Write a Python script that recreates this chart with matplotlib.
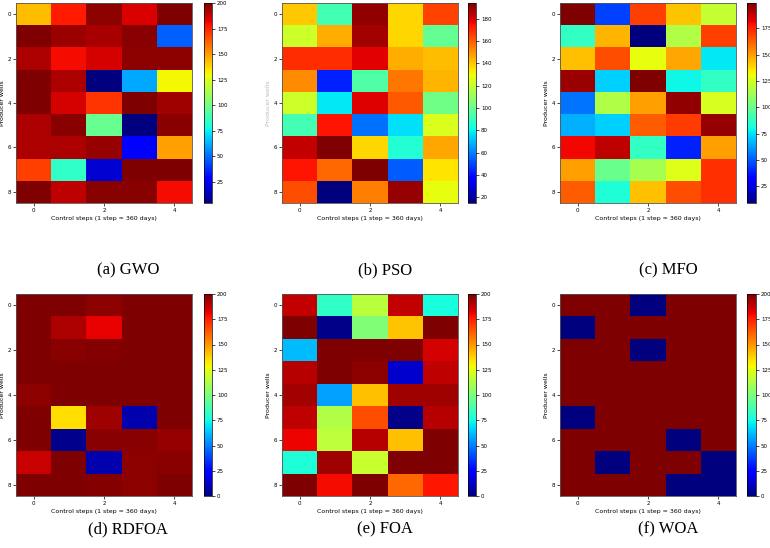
import numpy as np
import matplotlib
matplotlib.use("Agg")
import matplotlib.pyplot as plt

# Well control values (9 producer wells x 5 control steps) per algorithm
gwo = [[143, 177, 197, 184, 200],
       [200, 195, 193, 198, 47],
       [192, 180, 185, 197, 197],
       [200, 192, 4, 61, 131],
       [200, 185, 171, 200, 194],
       [192, 198, 97, 4, 198],
       [192, 192, 196, 27, 149],
       [169, 84, 18, 200, 200],
       [200, 189, 198, 198, 180]]
pso = [[140, 92, 191, 137, 165],
       [122, 145, 188, 137, 99],
       [169, 169, 178, 145, 142],
       [151, 43, 95, 155, 143],
       [122, 78, 179, 161, 102],
       [92, 174, 57, 77, 125],
       [183, 194, 137, 85, 146],
       [174, 158, 194, 54, 134],
       [163, 15, 154, 190, 128]]
mfo = [[199, 45, 169, 142, 121],
       [87, 145, 9, 116, 169],
       [143, 166, 129, 148, 76],
       [194, 72, 199, 79, 87],
       [55, 116, 150, 196, 125],
       [66, 72, 163, 170, 195],
       [180, 188, 87, 39, 150],
       [150, 100, 114, 127, 172],
       [163, 83, 143, 166, 172]]
rdfoa = [[200, 200, 197, 200, 200],
         [200, 192, 182, 200, 200],
         [200, 198, 199, 200, 200],
         [200, 200, 200, 200, 200],
         [197, 200, 200, 200, 200],
         [200, 135, 194, 8, 200],
         [200, 3, 198, 198, 196],
         [187, 200, 8, 197, 198],
         [200, 200, 199, 197, 200]]
foa = [[188, 82, 115, 188, 76],
       [200, 2, 101, 140, 200],
       [62, 200, 200, 200, 185],
       [190, 200, 197, 14, 189],
       [193, 57, 141, 194, 194],
       [189, 113, 165, 2, 190],
       [181, 116, 190, 141, 200],
       [78, 194, 118, 200, 200],
       [200, 179, 200, 160, 177]]
woa = [[200, 200, 0, 200, 200],
       [0, 200, 200, 200, 200],
       [200, 200, 0, 200, 200],
       [200, 200, 200, 200, 200],
       [200, 200, 200, 200, 200],
       [0, 200, 200, 200, 200],
       [200, 200, 200, 0, 200],
       [200, 0, 200, 200, 0],
       [200, 200, 200, 0, 0]]

panels = [gwo, pso, mfo, rdfoa, foa, woa]
captions = ["(a) GWO", "(b) PSO", "(c) MFO", "(d) RDFOA", "(e) FOA", "(f) WOA"]
# colour limits: top row scaled to its own data, bottom row fixed 0-200
limits = [(None, None), (None, None), (None, None), (0, 200), (0, 200), (0, 200)]

W, H = 770, 548
fig = plt.figure(figsize=(W/100, H/100), dpi=100)

# pixel boxes: axes (left, right), colorbar (left, right), caption x
cols = [(16, 192, 204, 212, 128), (282, 458, 468, 476, 385), (560, 736, 747, 756, 668)]
rows = [(3, 203, 270), (294, 496, 529)]

def box(l, r, t, b):
    return [l/W, 1-b/H, (r-l)/W, (b-t)/H]

for i, data in enumerate(panels):
    l, r, cl, cr, cx = cols[i % 3]
    t, b, cy = rows[i // 3]
    ax = fig.add_axes(box(l, r, t, b))
    vmin, vmax = limits[i]
    im = ax.imshow(np.array(data), cmap="jet", aspect="auto", interpolation="nearest",
                   vmin=vmin, vmax=vmax)
    ax.set_xticks([0, 2, 4])
    ax.set_yticks([0, 2, 4, 6, 8])
    ax.tick_params(labelsize=4, length=2, width=0.5, pad=1.5)
    for s in ax.spines.values():
        s.set_linewidth(0.6)
        s.set_color("#555555")
    ax.set_xlabel("Control steps (1 step = 360 days)", fontsize=4.5, labelpad=2)
    if i == 1:
        ax.set_ylabel("Producer wells", fontsize=4.5, labelpad=2, color="#bbbbbb")
    else:
        ax.set_ylabel("Producer wells", fontsize=4.5, labelpad=2)
    cax = fig.add_axes(box(cl, cr, t, b))
    cb = fig.colorbar(im, cax=cax)
    cb.ax.tick_params(labelsize=4, length=2, width=0.5, pad=1.5)
    cb.outline.set_linewidth(0.5)
    fig.text(cx/W, 1-cy/H, captions[i], ha="center", va="center",
             family="Liberation Serif", fontsize=12)

fig.savefig("out.png", dpi=100)
